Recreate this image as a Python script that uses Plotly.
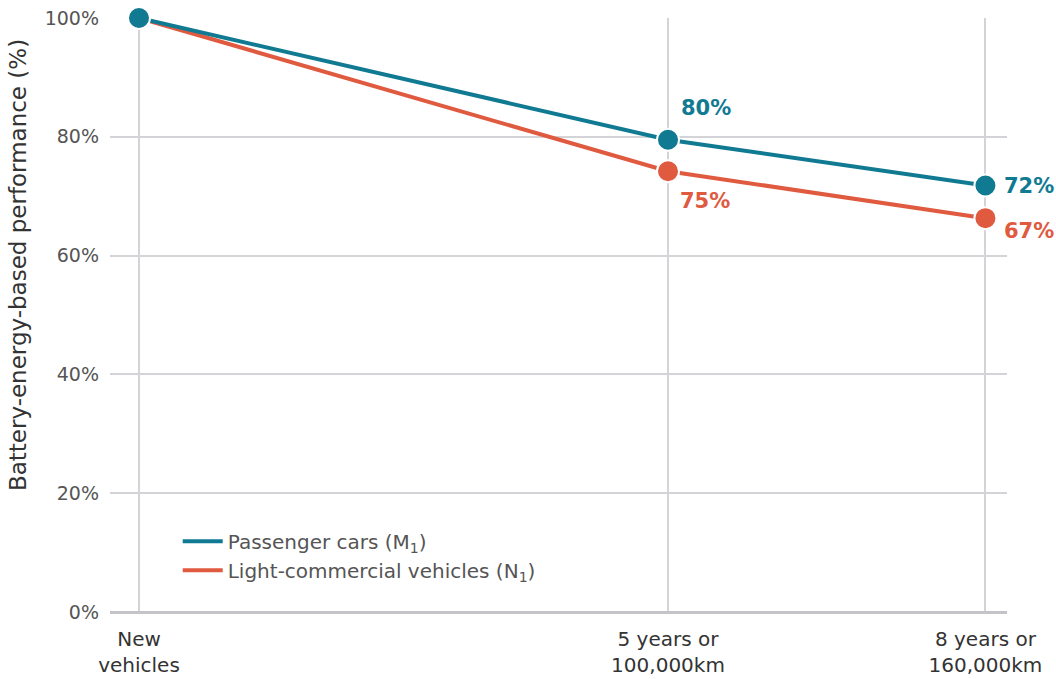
import plotly.graph_objects as go

# Data
x_pos = [0, 5, 8]
x_labels = ["New<br>vehicles", "5 years or<br>100,000km", "8 years or<br>160,000km"]
series_names = ["Passenger cars (M<sub>1</sub>)", "Light-commercial vehicles (N<sub>1</sub>)"]
passenger = [100, 79.5, 71.8]
commercial = [100, 74.2, 66.3]
passenger_labels = ["", "80%", "72%"]
commercial_labels = ["", "75%", "67%"]

TEAL = "#117a93"
ORANGE = "#e05a40"
FONT = "DejaVu Sans"

fig = go.Figure()
fig.add_trace(go.Scatter(
    x=x_pos, y=commercial, name=series_names[1], mode="lines+markers",
    line=dict(color=ORANGE, width=4), showlegend=False,
    marker=dict(size=22, color=ORANGE, line=dict(color="white", width=2)),
    cliponaxis=False,
))
fig.add_trace(go.Scatter(
    x=x_pos, y=passenger, name=series_names[0], mode="lines+markers",
    line=dict(color=TEAL, width=4), showlegend=False,
    marker=dict(size=22, color=TEAL, line=dict(color="white", width=2)),
    cliponaxis=False,
))
# legend-only line entries
for name, col in [(series_names[0], TEAL), (series_names[1], ORANGE)]:
    fig.add_trace(go.Scatter(x=[None], y=[None], name=name, mode="lines",
                             line=dict(color=col, width=4)))

# Data labels
offsets_p = [None, (38, 32), (44, 0)]
offsets_c = [None, (37, -30), (44, -13)]
for i in range(len(x_pos)):
    if passenger_labels[i]:
        dx, dy = offsets_p[i]
        fig.add_annotation(x=x_pos[i], y=passenger[i], text=passenger_labels[i],
                           showarrow=False, xshift=dx, yshift=dy,
                           font=dict(family=FONT, size=21, color=TEAL, weight="bold"))
    if commercial_labels[i]:
        dx, dy = offsets_c[i]
        fig.add_annotation(x=x_pos[i], y=commercial[i], text=commercial_labels[i],
                           showarrow=False, xshift=dx, yshift=dy,
                           font=dict(family=FONT, size=21, color=ORANGE, weight="bold"))

# Y axis title as annotation
fig.add_annotation(x=-0.1026, xref="paper", y=0.584, yref="paper",
                   xanchor="center", yanchor="middle",
                   text="Battery-energy-based performance (%)", textangle=-90,
                   showarrow=False,
                   font=dict(family=FONT, size=23, color="#333333"))

fig.update_layout(
    width=1056, height=679,
    margin=dict(l=110, r=49, t=18, b=67, autoexpand=False),
    plot_bgcolor="white", paper_bgcolor="white",
    font=dict(family=FONT, color="#333333"),
    legend=dict(
        x=0.0755, y=0.152, xanchor="left", yanchor="top",
        bgcolor="rgba(0,0,0,0)",
        font=dict(family=FONT, size=20, color="#555555"),
        itemwidth=40, tracegroupgap=0,
    ),
    showlegend=True,
)
fig.update_xaxes(
    range=[-0.274, 8.204], tickmode="array", tickvals=x_pos, ticktext=x_labels,
    showgrid=True, gridcolor="#d4d4d8", gridwidth=1.5,
    zeroline=False, showline=False, ticks="", ticklabelstandoff=13,
    automargin=False,
    tickfont=dict(family=FONT, size=20, color="#333333"),
)
fig.update_yaxes(
    range=[0, 100], tickvals=[0, 20, 40, 60, 80, 100],
    ticktext=["0%", "20%", "40%", "60%", "80%", "100%"],
    showgrid=True, gridcolor="#d4d4d8", gridwidth=1.5,
    zeroline=True, zerolinecolor="#c4c4c8", zerolinewidth=2.5,
    showline=False, ticks="", ticklabelstandoff=10,
    automargin=False,
    tickfont=dict(family=FONT, size=19, color="#555555"),
)

fig.write_html("out.html", config={"displayModeBar": False},
               post_script="document.body.style.margin='0px';")
